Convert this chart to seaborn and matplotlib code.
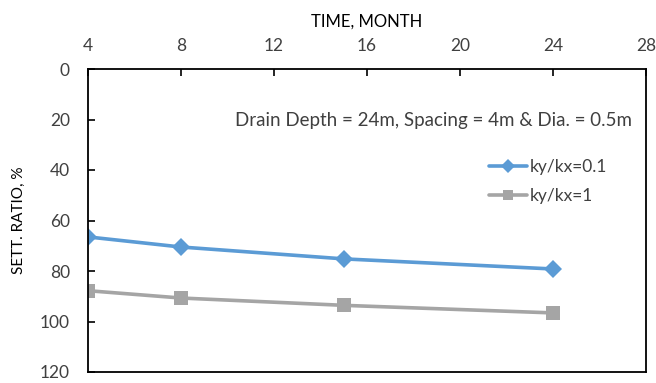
import matplotlib
matplotlib.use("Agg")
import matplotlib.pyplot as plt
import seaborn as sns
import pandas as pd

months = [4, 8, 15, 24]
ratio_01 = [66.5, 70.5, 75.2, 79.2]
ratio_1 = [87.8, 90.7, 93.6, 96.6]
series_names = ["ky/kx=0.1", "ky/kx=1"]
x_ticks = [4, 8, 12, 16, 20, 24, 28]
y_ticks = [0, 20, 40, 60, 80, 100, 120]

df = pd.DataFrame({
    "month": months * 2,
    "ratio": ratio_01 + ratio_1,
    "series": [series_names[0]] * len(months) + [series_names[1]] * len(months),
})

sns.set_theme(style="white")
plt.rcParams["font.family"] = ["Lato", "DejaVu Sans"]

fig = plt.figure(figsize=(6.56, 3.83), dpi=100)
ax = fig.add_axes([88/656, 1-372/383, (646-88)/656, (372-69)/383])

sns.lineplot(data=df, x="month", y="ratio", hue="series", style="series",
             palette={series_names[0]: "#5B9BD5", series_names[1]: "#A5A5A5"},
             markers={series_names[0]: "D", series_names[1]: "s"},
             dashes=False, linewidth=2.6, markeredgewidth=0,
             ax=ax, legend=True)
for line, ms in zip(ax.get_lines()[:2], [9.5, 10.5]):
    line.set_markersize(ms)

ax.set_xlim(4, 28)
ax.set_ylim(120, 0)
ax.set_xticks(x_ticks)
ax.set_yticks(y_ticks)
ax.xaxis.tick_top()
ax.xaxis.set_label_position("top")
ax.tick_params(axis="x", direction="in", length=5, width=1.2, colors="black",
               labelcolor="#404040", labelsize=12.5, pad=11, top=True, bottom=False)
ax.tick_params(axis="y", direction="in", length=5, width=1.2, colors="black",
               labelcolor="#404040", labelsize=12.5, pad=13, left=True, right=False)
for s in ax.spines.values():
    s.set_visible(True)
    s.set_color("black")
    s.set_linewidth(1.3)

ax.set_xlabel("TIME, MONTH", fontsize=12, color="black", labelpad=8)
ax.set_ylabel("SETT. RATIO, %", fontsize=11, color="black", labelpad=10)

ax.text(0.975, 0.83, "Drain Depth = 24m, Spacing = 4m & Dia. = 0.5m",
        transform=ax.transAxes, ha="right", va="center", fontsize=13.5, color="#404040")

leg = ax.legend(loc="upper left", bbox_to_anchor=(0.69, 0.755), frameon=False,
                fontsize=12.5, handlelength=2.2, labelspacing=0.75, handletextpad=0.15)
for t in leg.get_texts():
    t.set_color("#404040")
for h in leg.legend_handles:
    h.set_markersize(7)
    h.set_linewidth(2.6)

fig.savefig("out.png", dpi=100)
